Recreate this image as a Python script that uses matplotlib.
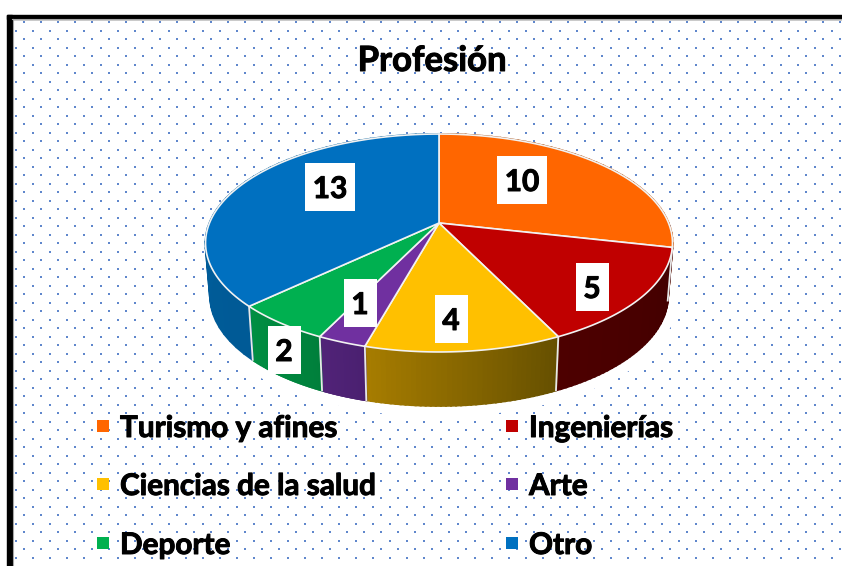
import numpy as np
from matplotlib import pyplot as plt
from matplotlib import colors as mcolors
from matplotlib import patheffects as pe
from matplotlib.patches import Rectangle

categories = ['Turismo y afines', 'Ingenierías', 'Ciencias de la salud', 'Arte', 'Deporte', 'Otro']
values = [10, 5, 4, 1, 2, 13]
colors = ['#ff6600', '#c00000', '#ffc000', '#7030a0', '#00b050', '#0070c0']
# lado del cilindro, izquierda y derecha de cada sector
side_left = ['#c04d00', '#4d0000', '#a67c00', '#512378', '#008f42', '#00609f']
side_right = ['#a04000', '#420000', '#665000', '#4a2070', '#007f3b', '#005a96']

label_pos = [(522, 180), (592, 287), (451, 319), (360, 303), (284, 350), (330, 187)]
legend_x = [97, 506]
legend_y = [426, 484, 543]

# geometria del pastel (pixeles)
CX, CY = 439, 223
RX, RY = 229.5, 105.3
PERSP = 0.1835
RX2, RY2, CY2 = 225, 106, 276


def rim(ang, rx, ry, cy):
    # ang en grados desde arriba, sentido horario, con perspectiva
    t = np.radians(ang)
    u, v = np.sin(t), np.cos(t)
    w = 1 + PERSP * v
    return CX + rx * u / w, cy - ry * v / w


plt.rcParams['font.family'] = ['Lato', 'DejaVu Sans']
bold = [pe.withStroke(linewidth=0.7, foreground='black')]

fig = plt.figure(figsize=(8.42, 5.66), dpi=100)
ax = fig.add_axes([0, 0, 1, 1])
ax.set_xlim(0, 842)
ax.set_ylim(566, 0)
ax.axis('off')

# marco
ax.add_patch(Rectangle((7, 15), 835, 3.5, color='black', zorder=1))
ax.add_patch(Rectangle((7, 15), 5, 551, color='black', zorder=1))
ax.plot([12.5, 12.5], [19, 566], color='#a6a6a6', lw=0.8, zorder=1)
ax.plot([12, 842], [19, 19], color='#a6a6a6', lw=0.8, zorder=1)

# fondo punteado
xa, ya = np.meshgrid(np.arange(23.5, 842, 17), np.arange(22, 566, 17))
xb, yb = np.meshgrid(np.arange(15.5, 842, 17), np.arange(30.5, 566, 17))
ax.scatter(xa.ravel(), ya.ravel(), s=2.2, marker='s', color='#4472c4', linewidths=0, alpha=0.85, zorder=2)
ax.scatter(xb.ravel(), yb.ravel(), s=1.6, marker='s', color='#4472c4', linewidths=0, alpha=0.85, zorder=2)

# zona blanca debajo del pastel
full = np.linspace(0, 360, 200)
hx, hy = rim(full, RX2 + 8, RY2 + 4, CY2 + 6)
ax.fill(hx, hy, color='white', lw=0, zorder=3)

cum = np.concatenate([[0], np.cumsum(values)]) * 360 / sum(values)

# lados
for i in range(len(values)):
    angs = np.linspace(cum[i], cum[i + 1], 40)
    c1 = np.array(mcolors.to_rgb(side_left[i]))
    c2 = np.array(mcolors.to_rgb(side_right[i]))
    for j in range(len(angs) - 1):
        a = angs[j:j + 2]
        x1, y1 = rim(a, RX, RY, CY)
        x2, y2 = rim(a[::-1], RX2, RY2, CY2)
        c = c2 + (c1 - c2) * (j / (len(angs) - 2))
        ax.fill(np.r_[x1, x2], np.r_[y1, y2], color=c, lw=1.5, zorder=4)
for a in cum[1:6]:
    x1, y1 = rim(a, RX, RY, CY)
    x2, y2 = rim(a, RX2, RY2, CY2)
    ax.plot([x1, x2], [y1, y2], color='#e8e8e8', lw=1.3, zorder=5)

# tapa
for i in range(len(values)):
    angs = np.linspace(cum[i], cum[i + 1], 100)
    x, y = rim(angs, RX, RY, CY)
    ax.fill(np.r_[CX, x], np.r_[CY, y], facecolor=colors[i], edgecolor='#f2f2f2', lw=1.2, joinstyle='round', zorder=6)

# etiquetas
for val, (x, y) in zip(values, label_pos):
    w = 50 if val >= 10 else 33
    ax.add_patch(Rectangle((x - w / 2, y - 24), w, 48, color='white', lw=0, zorder=7))
    ax.text(x, y + 2, str(val), ha='center', va='center', fontsize=21.5, fontweight='bold', color='black',
            path_effects=bold, zorder=8)

ax.text(432, 61, 'Profesión', ha='center', va='center', fontsize=25, fontweight='bold', color='black',
        path_effects=bold, zorder=8)

# leyenda
for i, name in enumerate(categories):
    x = legend_x[i % 2]
    y = legend_y[i // 2]
    ax.add_patch(Rectangle((x, y - 6), 12, 12, color=colors[i], lw=0, zorder=7))
    ax.text(x + 23, y + 2, name, ha='left', va='center', fontsize=21.4, fontweight='bold', color='black',
            path_effects=bold, zorder=8)

fig.savefig('out.png', dpi=100)
